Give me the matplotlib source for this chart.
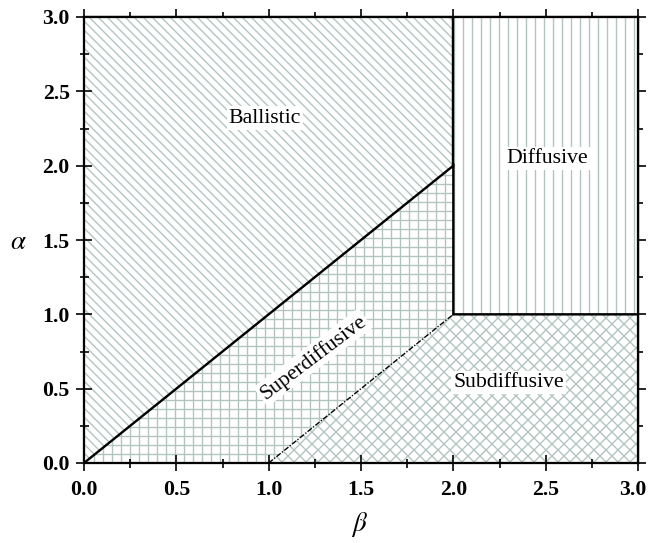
import matplotlib
matplotlib.use('Agg')
from matplotlib import pyplot as plt
from matplotlib.ticker import MultipleLocator, FormatStrFormatter
from matplotlib.transforms import ScaledTranslation

# regime boundaries in the (beta, alpha) plane
ballistic_b = [0, 0, 2, 2]
ballistic_a = [0, 3, 3, 2]
diffusive_b = [2, 2, 3, 3]
diffusive_a = [1, 3, 3, 1]
superdiff_b = [0, 2, 2, 1]
superdiff_a = [0, 2, 1, 0]
subdiff_b = [1, 2, 3, 3]
subdiff_a = [0, 1, 1, 0]

# boundary lines
border_b = [0, 2, 2, 3]
border_a = [0, 2, 1, 1]
upper_b = [2, 2]
upper_a = [2, 3]
dashed_b = [1, 2]
dashed_a = [0, 1]

labels = ['Ballistic', 'Diffusive', 'Superdiffusive', 'Subdiffusive']
label_b = [0.98, 2.51, 1.24, 2.30]
label_a = [2.32, 2.05, 0.71, 0.54]
label_rot = [0, 0, 37, 0]

DPI = 108
HC = '#b0c4c0'

plt.rcParams['font.family'] = ['Liberation Serif', 'DejaVu Serif']
plt.rcParams['mathtext.fontset'] = 'stix'
plt.rcParams['hatch.linewidth'] = 0.9

fig = plt.figure(figsize=(649 / DPI, 543 / DPI), dpi=DPI)
ax = fig.add_axes([84 / 649, 80 / 543, 554 / 649, 446 / 543])

ax.fill(ballistic_b, ballistic_a, facecolor='white', edgecolor=HC, linewidth=0, hatch='\\\\\\\\')
ax.fill(diffusive_b, diffusive_a, facecolor='white', edgecolor=HC, linewidth=0, hatch='||')
ax.fill(superdiff_b, superdiff_a, facecolor='white', edgecolor=HC, linewidth=0, hatch='++')
ax.fill(subdiff_b, subdiff_a, facecolor='white', edgecolor=HC, linewidth=0, hatch='xxx')

ax.plot(border_b, border_a, color='black', linewidth=1.6, solid_joinstyle='miter')
ax.plot(upper_b, upper_a, color='black', linewidth=1.6)
ax.plot(dashed_b, dashed_a, color='black', linewidth=0.9, linestyle=(0, (4, 1.2, 1, 1.2)))

for txt, b, a, r in zip(labels, label_b, label_a, label_rot):
    ax.text(b, a, txt, fontsize=14.5, rotation=r, ha='center', va='center',
            bbox=dict(facecolor='white', edgecolor='none', pad=1.5))

ax.set_xlim(0, 3)
ax.set_ylim(0, 3)
ax.xaxis.set_major_locator(MultipleLocator(0.5))
ax.xaxis.set_minor_locator(MultipleLocator(0.25))
ax.yaxis.set_major_locator(MultipleLocator(0.5))
ax.yaxis.set_minor_locator(MultipleLocator(0.25))
ax.xaxis.set_major_formatter(FormatStrFormatter('%.1f'))
ax.yaxis.set_major_formatter(FormatStrFormatter('%.1f'))
ax.tick_params(which='major', direction='inout', length=11, width=1.1, labelsize=14.5, pad=4)
ax.tick_params(which='minor', direction='inout', length=6, width=1.1)
ax.tick_params(axis='x', which='major', pad=6)
for lab in ax.get_xticklabels() + ax.get_yticklabels():
    lab.set_fontweight('bold')

for s in ax.spines.values():
    s.set_linewidth(1.5)

# top and right ticks point outward
top = ax.secondary_xaxis('top')
top.xaxis.set_major_locator(MultipleLocator(0.5))
top.xaxis.set_minor_locator(MultipleLocator(0.25))
top.tick_params(which='major', direction='out', length=5.5, width=1.1, labeltop=False)
top.tick_params(which='minor', direction='out', length=3.5, width=1.1)
right = ax.secondary_yaxis('right')
right.yaxis.set_major_locator(MultipleLocator(0.5))
right.yaxis.set_minor_locator(MultipleLocator(0.25))
right.tick_params(which='major', direction='out', length=5.5, width=1.1, labelright=False)
right.tick_params(which='minor', direction='out', length=3.5, width=1.1)
top.spines['top'].set_linewidth(1.5)
right.spines['right'].set_linewidth(1.5)

ax.set_xlabel(r'$\beta$', fontsize=18)
ax.set_ylabel(r'$\alpha$', fontsize=18, rotation=0, va='center', ha='center')
ax.xaxis.set_label_coords(0.498, -0.139)
ax.yaxis.set_label_coords(-0.119, 0.495)
ax.xaxis.label.set_va('center')

# last x label sits a little left so it stays inside the figure
fig.canvas.draw()
for t in ax.xaxis.get_major_ticks():
    if abs(t.get_loc() - 3.0) < 1e-9:
        t.label1.set_transform(t.label1.get_transform()
                               + ScaledTranslation(-5 / DPI, 0, fig.dpi_scale_trans))

fig.savefig('out.png', dpi=DPI)
